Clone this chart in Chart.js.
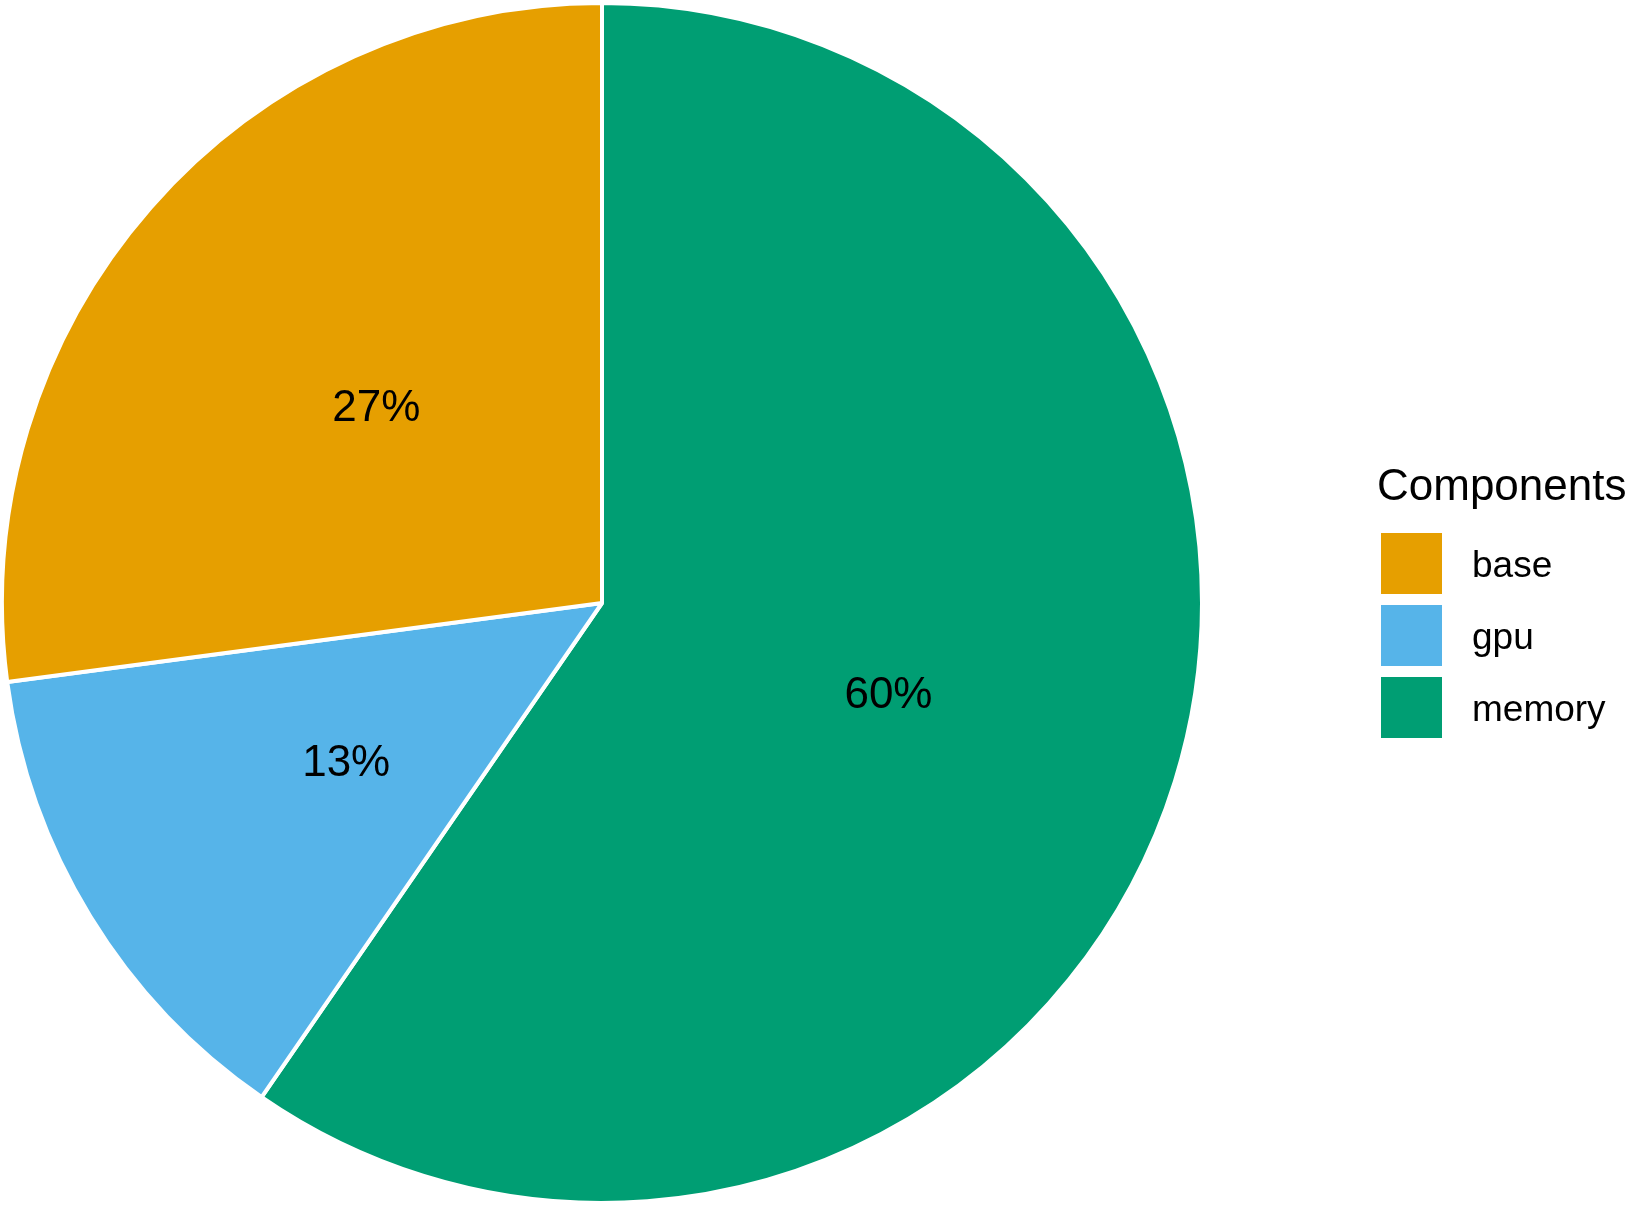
<!DOCTYPE html>
<html>
<head>
<meta charset="utf-8">
<script src="https://cdn.jsdelivr.net/npm/chart.js@4"></script>
<style>
  html, body { margin: 0; padding: 0; background: #fff; }
  #wrap { width: 1634px; height: 1206px; }
</style>
</head>
<body>
<div id="wrap"><canvas id="myChart"></canvas></div>
<script>
// legend order (as in the reference)
const categories = ['base', 'gpu', 'memory'];
const values = [27.1, 13.3, 59.6];
const colors = ['#E69F00', '#56B4E9', '#009E73'];
const legendTitle = 'Components';

// pie is drawn clockwise from 12 o'clock: memory, gpu, base
const pieLabels = categories.slice().reverse();
const pieValues = values.slice().reverse();
const pieColors = colors.slice().reverse();

const FONT = '"Liberation Sans", Arial, Helvetica, sans-serif';

const pctLabels = {
  id: 'pctLabels',
  afterDatasetsDraw(chart) {
    const ctx = chart.ctx;
    const data = chart.data.datasets[0].data;
    const total = data.reduce((a, b) => a + b, 0);
    const meta = chart.getDatasetMeta(0);
    ctx.save();
    ctx.font = '44px ' + FONT;
    ctx.fillStyle = '#000';
    ctx.textAlign = 'center';
    ctx.textBaseline = 'middle';
    meta.data.forEach((arc, i) => {
      const p = arc.tooltipPosition();
      ctx.fillText(Math.round(data[i] / total * 100) + '%', p.x, p.y + 4);
    });
    ctx.restore();
  }
};

const sideLegend = {
  id: 'sideLegend',
  afterDraw(chart) {
    const ctx = chart.ctx;
    const x0 = 1377;
    ctx.save();
    ctx.fillStyle = '#000';
    ctx.textBaseline = 'alphabetic';
    ctx.font = '44px ' + FONT;
    ctx.fillText(legendTitle, x0, 500);
    ctx.font = '37px ' + FONT;
    categories.forEach((c, i) => {
      const y = 533 + i * 72;
      ctx.fillStyle = colors[i];
      ctx.fillRect(x0 + 4, y, 61, 61);
      ctx.fillStyle = '#000';
      ctx.fillText(c, 1472, y + 44);
    });
    ctx.restore();
  }
};

const ctx = document.getElementById('myChart');
new Chart(ctx, {
  type: 'pie',
  data: {
    labels: pieLabels,
    datasets: [{
      data: pieValues,
      backgroundColor: pieColors,
      borderColor: '#ffffff',
      borderWidth: 4
    }]
  },
  options: {
    responsive: true,
    maintainAspectRatio: false,
    animation: false,
    layout: { padding: { left: 0, right: 430, top: 1, bottom: 1 } },
    plugins: {
      legend: { display: false },
      tooltip: { enabled: false }
    }
  },
  plugins: [pctLabels, sideLegend]
});
</script>
</body>
</html>
